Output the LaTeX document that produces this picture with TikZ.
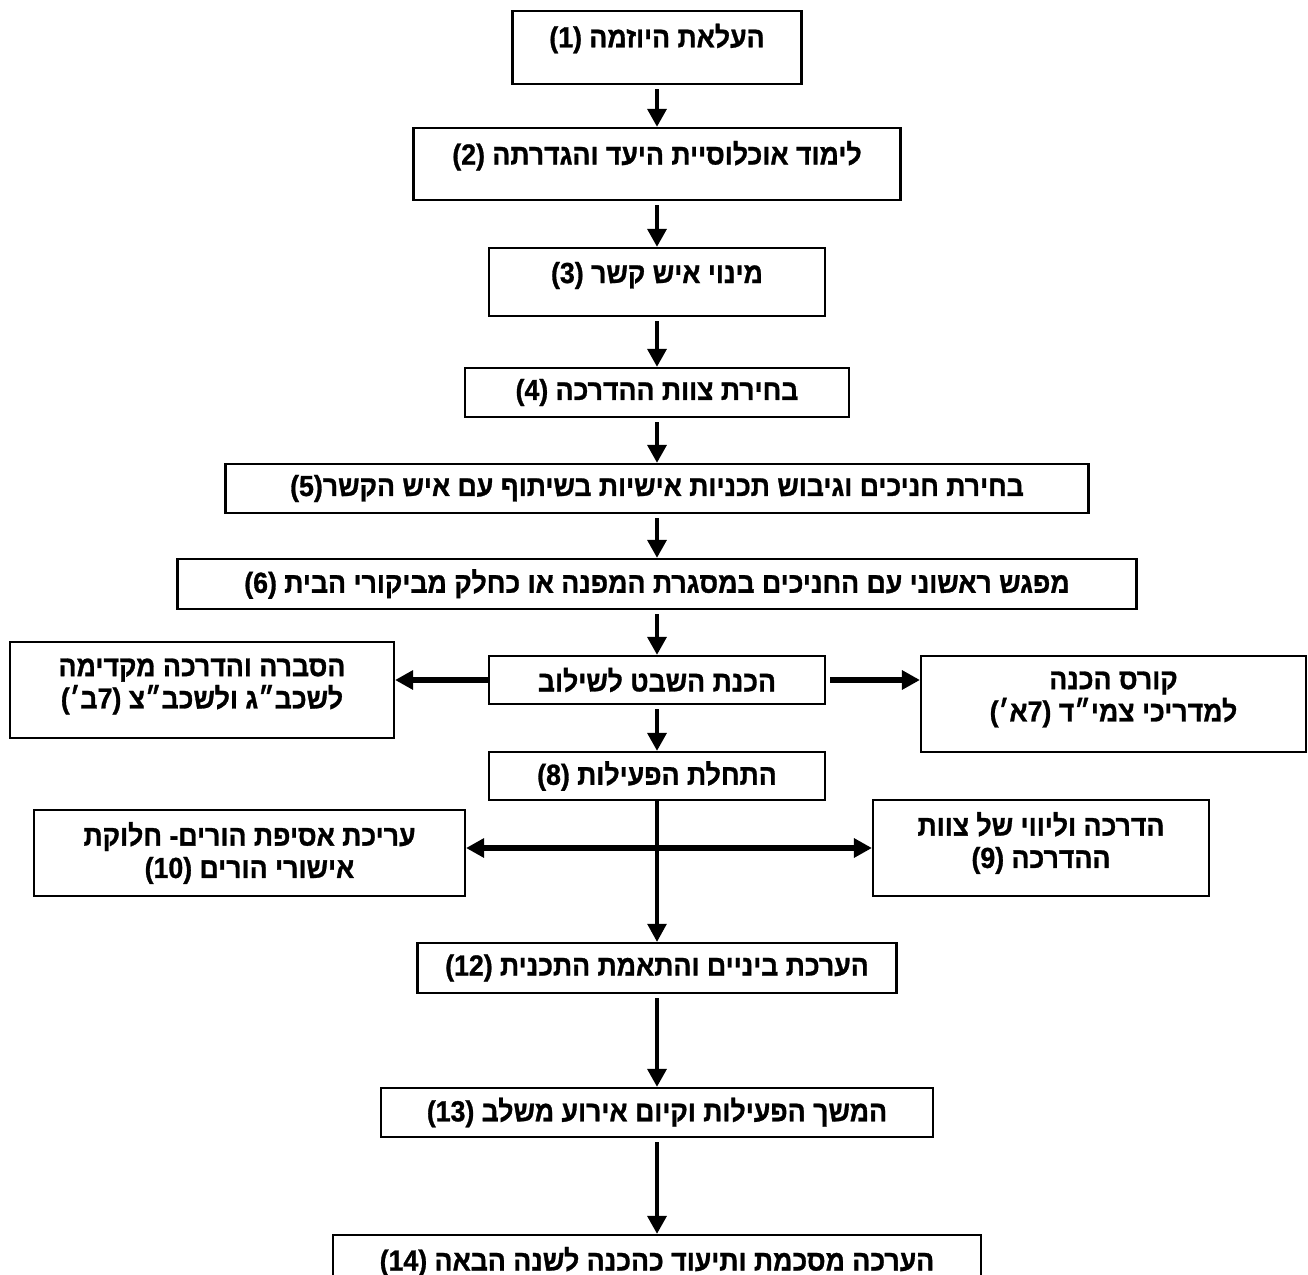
\documentclass[tikz,border=0pt]{standalone}
\usepackage{fontspec}
\newfontfamily\hebfont[Script=Hebrew, FakeStretch=0.92, BoldFeatures={FakeBold=1}]{Liberation Sans}
\TeXXeTstate=1
\usetikzlibrary{arrows.meta, positioning}
\tikzset{
  caja/.style={draw, line width=1.2pt, inner sep=0pt, align=center,
    font=\hebfont\bfseries\fontsize{16.5}{18.4}\selectfont},
  punta/.tip={Triangle[length=0.36cm, width=0.37cm]},
  flecha/.style={-punta, line width=2.8pt, shorten <=0.08cm},
  lateral/.style={-punta, line width=3.4pt}
}
\begin{document}
\begin{tikzpicture}
    \useasboundingbox (0,0) rectangle (26.16,-25.5);
    % Columna central
    \node[caja, minimum width=5.78cm, minimum height=1.46cm, text depth=0.48cm] (p1) at (13.14,-0.95) {\beginR העלאת היוזמה \beginL(1)\endL\endR};
    \node[caja, minimum width=9.74cm, minimum height=1.44cm, text depth=0.45cm] (p2) at (13.14,-3.28) {\beginR לימוד אוכלוסיית היעד והגדרתה \beginL(2)\endL\endR};
    \node[caja, minimum width=6.72cm, minimum height=1.36cm, text depth=0.38cm] (p3) at (13.14,-5.64) {\beginR מינוי איש קשר \beginL(3)\endL\endR};
    \node[caja, minimum width=7.68cm, minimum height=0.98cm] (p4) at (13.14,-7.85) {\beginR בחירת צוות ההדרכה \beginL(4)\endL\endR};
    \node[caja, minimum width=17.26cm, minimum height=0.98cm] (p5) at (13.14,-9.77) {\beginR בחירת חניכים וגיבוש תכניות אישיות בשיתוף עם איש הקשר\beginL(5)\endL\endR};
    \node[caja, minimum width=19.18cm, minimum height=1cm] (p6) at (13.14,-11.68) {\beginR מפגש ראשוני עם החניכים במסגרת המפנה או כחלק מביקורי הבית \beginL(6)\endL\endR};
    \node[caja, minimum width=6.72cm, minimum height=0.96cm] (p7) at (13.14,-13.6) {\beginR הכנת השבט לשילוב\endR};
    \node[caja, minimum width=6.72cm, minimum height=0.96cm] (p8) at (13.14,-15.52) {\beginR התחלת הפעילות \beginL(8)\endL\endR};
    \node[caja, minimum width=9.58cm, minimum height=1cm] (p12) at (13.14,-19.36) {\beginR הערכת ביניים והתאמת התכנית \beginL(12)\endL\endR};
    \node[caja, minimum width=11.04cm, minimum height=0.98cm] (p13) at (13.14,-22.25) {\beginR המשך הפעילות וקיום אירוע משלב \beginL(13)\endL\endR};
    \node[caja, minimum width=12.96cm, minimum height=1cm, text depth=0.05cm] (p14) at (13.14,-25.2) {\beginR הערכה מסכמת ותיעוד כהכנה לשנה הבאה \beginL(14)\endL\endR};
    % Cajas laterales
    \node[caja, minimum width=7.68cm, minimum height=1.92cm, text depth=0.26cm] (p7b) at (4.04,-13.8) {\beginR הסברה והדרכה מקדימה\endR\\\beginR לשכב״ג ולשכב״צ \beginL(7ב׳)\endL\endR};
    \node[caja, minimum width=7.70cm, minimum height=1.92cm, text depth=0.3cm] (p7a) at (22.27,-14.08) {\beginR קורס הכנה\endR\\\beginR למדריכי צמי״ד \beginL(7א׳)\endL\endR};
    \node[caja, minimum width=8.62cm, minimum height=1.72cm] (p10) at (4.99,-17.06) {\beginR עריכת אסיפת הורים- חלוקת\endR\\\beginR אישורי הורים \beginL(10)\endL\endR};
    \node[caja, minimum width=6.72cm, minimum height=1.92cm, text depth=0.32cm] (p9) at (20.82,-16.96) {\beginR הדרכה וליווי של צוות\endR\\\beginR ההדרכה \beginL(9)\endL\endR};
    % Flechas
    \foreach \a/\b in {p1/p2, p2/p3, p3/p4, p4/p5, p5/p6, p6/p7, p7/p8, p12/p13, p13/p14}
        \draw[flecha] (\a) -- (\b);
    \draw[flecha, line width=2.2pt, shorten <=0pt] (p8) -- (p12);
    \draw[lateral] (p7.west) -- (p7.west -| p7b.east);
    \draw[lateral, shorten <=0.08cm] (p7.east) -- (p7.east -| p7a.west);
    \draw[lateral, punta-punta] (p9.west -| p10.east) -- (p9.west);
\end{tikzpicture}
\end{document}
